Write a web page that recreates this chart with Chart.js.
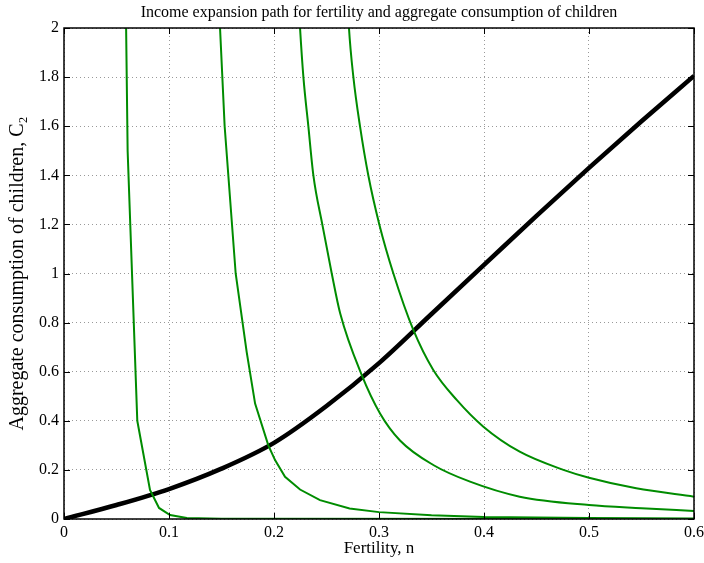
<!DOCTYPE html>
<html>
<head>
<meta charset="utf-8">
<script src="https://cdn.jsdelivr.net/npm/chart.js@4"></script>
<style>
  html, body { margin: 0; padding: 0; background: #fff; }
  #wrap { width: 704px; height: 563px; }
</style>
</head>
<body>
<div id="wrap"><canvas id="chart"></canvas></div>
<script>
// expansion path (black)
const pathN = [0, 0.05, 0.1, 0.15, 0.2, 0.25, 0.3, 0.35, 0.4, 0.45, 0.5, 0.55, 0.6];
const pathC = [0, 0.057, 0.122, 0.205, 0.31, 0.46, 0.635, 0.835, 1.035, 1.235, 1.43, 1.62, 1.805];

// indifference curves (green)
const curve1N = [0.058, 0.0606, 0.0698, 0.0819, 0.0905, 0.101, 0.117, 0.15, 0.6];
const curve1C = [2.4, 1.5, 0.4, 0.118, 0.045, 0.016, 0.004, 0.001, 0];

const curve2N = [0.145, 0.1486, 0.153, 0.1635, 0.174, 0.182, 0.1946, 0.201, 0.2105, 0.2248, 0.2438, 0.272, 0.3, 0.35, 0.4, 0.5, 0.6];
const curve2C = [2.3, 2.0, 1.6, 1.0, 0.68, 0.47, 0.30, 0.24, 0.172, 0.12, 0.077, 0.043, 0.028, 0.015, 0.008, 0.004, 0.002];

const curve3N = [0.221, 0.2248, 0.228, 0.2327, 0.2375, 0.246, 0.255, 0.263, 0.2835, 0.301, 0.32, 0.3517, 0.3867, 0.434, 0.5, 0.55, 0.6];
const curve3C = [2.3, 2.0, 1.8, 1.6, 1.4, 1.2, 1.0, 0.838, 0.587, 0.43, 0.32, 0.22, 0.152, 0.091, 0.057, 0.044, 0.033];

const curve4N = [0.268, 0.2714, 0.2756, 0.2819, 0.2898, 0.3003, 0.3137, 0.3327, 0.3517, 0.374, 0.3994, 0.434, 0.4756, 0.5, 0.545, 0.6];
const curve4C = [2.3, 2.0, 1.8, 1.6, 1.4, 1.2, 1.0, 0.77, 0.607, 0.485, 0.376, 0.274, 0.2, 0.168, 0.125, 0.091];

const serif = 'Liberation Serif, Times New Roman, serif';
const green = '#008c00';

function pts(xs, ys) {
  return xs.map((x, i) => ({ x: x, y: ys[i] }));
}

function greenLine(xs, ys, smooth) {
  return {
    data: pts(xs, ys),
    borderColor: green,
    borderWidth: 2,
    pointRadius: 0,
    tension: 0,
    cubicInterpolationMode: smooth ? 'monotone' : 'default',
    clip: 0
  };
}

function plain(v) {
  return String(Number(v.toFixed(2)));
}

// box round the plot and inward tick marks on all four sides
const boxTicks = {
  id: 'boxTicks',
  afterDatasetsDraw(chart) {
    const { ctx, chartArea: a, scales: { x, y } } = chart;
    ctx.save();
    ctx.strokeStyle = '#000';
    ctx.lineWidth = 1;
    ctx.beginPath();
    x.ticks.forEach(t => {
      const px = Math.round(x.getPixelForValue(t.value)) + 0.5;
      ctx.moveTo(px, a.bottom); ctx.lineTo(px, a.bottom - 6);
      ctx.moveTo(px, a.top); ctx.lineTo(px, a.top + 6);
    });
    y.ticks.forEach(t => {
      const py = Math.round(y.getPixelForValue(t.value)) + 0.5;
      ctx.moveTo(a.left, py); ctx.lineTo(a.left + 6, py);
      ctx.moveTo(a.right, py); ctx.lineTo(a.right - 6, py);
    });
    ctx.stroke();
    ctx.lineWidth = 1.5;
    ctx.strokeRect(a.left, a.top, a.right - a.left, a.bottom - a.top);
    ctx.restore();
  }
};

const ctx = document.getElementById('chart').getContext('2d');
new Chart(ctx, {
  type: 'line',
  data: {
    datasets: [
      greenLine(curve1N, curve1C, false),
      greenLine(curve2N, curve2C, false),
      greenLine(curve3N, curve3C, true),
      greenLine(curve4N, curve4C, true),
      {
        data: pts(pathN, pathC),
        borderColor: '#000',
        borderWidth: 4.5,
        pointRadius: 0,
        cubicInterpolationMode: 'monotone',
        clip: 0
      }
    ]
  },
  options: {
    responsive: true,
    maintainAspectRatio: false,
    animation: false,
    layout: { padding: { right: 10 } },
    plugins: {
      legend: { display: false },
      tooltip: { enabled: false },
      title: {
        display: true,
        fullSize: false,
        text: 'Income expansion path for fertility and aggregate consumption of children',
        color: '#000',
        font: { family: serif, size: 16, weight: 'normal' },
        padding: { top: 3, bottom: 5.8 }
      }
    },
    scales: {
      x: {
        type: 'linear',
        min: 0,
        max: 0.6,
        ticks: { stepSize: 0.1, color: '#000', font: { family: serif, size: 16 }, padding: 4, maxRotation: 0, callback: plain },
        grid: { color: '#999', drawTicks: false },
        border: { display: false, dash: [1, 3] },
        title: {
          display: true,
          text: 'Fertility, n',
          color: '#000',
          font: { family: serif, size: 17 },
          padding: { top: 0, bottom: 4 }
        },
        afterFit(scale) {
          scale.height = 44;
          scale.paddingLeft = 0;
          scale.paddingRight = 0;
        }
      },
      y: {
        min: 0,
        max: 2,
        ticks: { stepSize: 0.2, color: '#000', font: { family: serif, size: 16 }, padding: 5, callback: plain },
        grid: { color: '#999', drawTicks: false },
        border: { display: false, dash: [1, 3] },
        title: {
          display: true,
          text: 'Aggregate consumption of children, C\u2082',
          color: '#000',
          font: { family: serif, size: 20 },
          padding: { top: 6, bottom: 0 }
        },
        afterFit(scale) {
          scale.width = 64;
          scale.paddingTop = 0;
          scale.paddingBottom = 0;
        }
      }
    }
  },
  plugins: [boxTicks]
});
</script>
</body>
</html>
